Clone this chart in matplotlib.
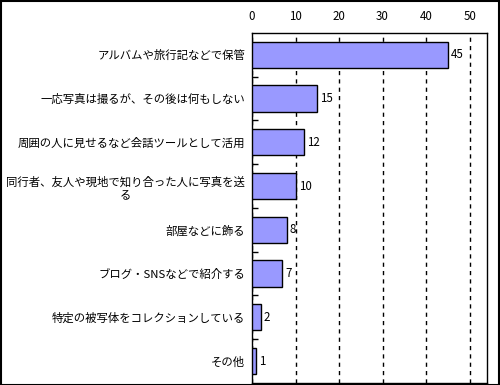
import matplotlib
matplotlib.use("Agg")
import matplotlib.pyplot as plt
from matplotlib.patches import Rectangle

plt.rcParams['font.family'] = ['Noto Sans CJK JP', 'DejaVu Sans']

# data
categories = [
    "アルバムや旅行記などで保管",
    "一応写真は撮るが、その後は何もしない",
    "周囲の人に見せるなど会話ツールとして活用",
    "同行者、友人や現地で知り合った人に写真を送\nる",
    "部屋などに飾る",
    "ブログ・SNSなどで紹介する",
    "特定の被写体をコレクションしている",
    "その他",
]
values = [45, 15, 12, 10, 8, 7, 2, 1]
x_ticks = [0, 10, 20, 30, 40, 50]

fig = plt.figure(figsize=(5, 3.85), dpi=100)
ax = fig.add_axes([0.504, 0.0052, 0.47, 0.9091])

pos = list(range(len(categories)))
ax.barh(pos, values, height=0.6, color="#9999FF", edgecolor="black", linewidth=1, zorder=3)
for p, v in zip(pos, values):
    ax.text(v + 0.7, p, str(v), va="center", ha="left", fontsize=8.3, zorder=4)

ax.set_ylim(len(categories) - 0.5, -0.5)
ax.set_xlim(0, 54)
ax.set_yticks(pos)
ax.set_yticklabels(categories, fontsize=8.2, multialignment="center", linespacing=1.3)
ax.set_yticks([p + 0.5 for p in pos[:-1]], minor=True)
ax.tick_params(axis="y", which="major", length=0, pad=5)
ax.tick_params(axis="y", which="minor", direction="in", length=4, width=1)

ax.xaxis.tick_top()
ax.set_xticks(x_ticks)
ax.set_xticklabels([str(t) for t in x_ticks], fontsize=8.3)
ax.tick_params(axis="x", length=0, pad=7)
ax.grid(axis="x", color="black", linestyle=(0, (3, 3)), linewidth=1, zorder=0)

for s in ax.spines.values():
    s.set_linewidth(1)
    s.set_color("black")

fig.patches.append(Rectangle((0.001, 0.001), 0.997, 0.997, transform=fig.transFigure,
                             fill=False, edgecolor="black", linewidth=1.5))

fig.savefig("out.png", dpi=100)
